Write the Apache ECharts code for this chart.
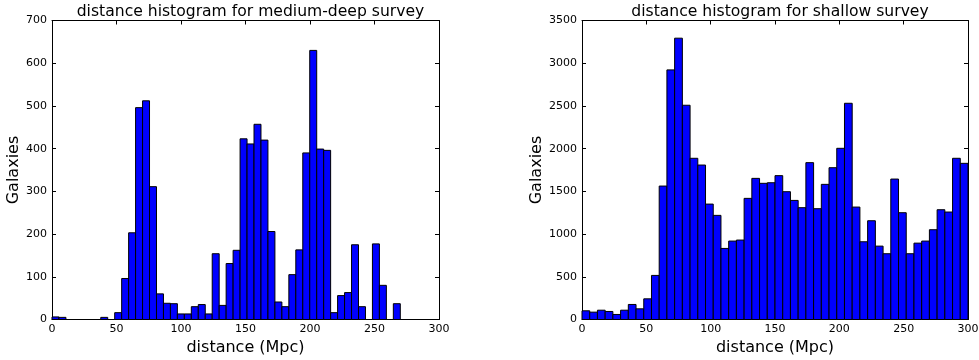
<!DOCTYPE html>
<html>
<head>
<meta charset="utf-8">
<script src="https://cdn.jsdelivr.net/npm/echarts@6/dist/echarts.min.js"></script>
<style>
  html, body { margin: 0; padding: 0; background: #fff; }
  #chart { width: 979px; height: 360px; }
</style>
</head>
<body>
<div id="chart"></div>
<script>
// Galaxy counts per distance bin (Mpc)
const deepBinStart = 0;
const deepBinWidth = 5.4;
const deepCounts = [
  6, 5, 0, 0, 0, 0, 0, 5, 0, 16,
  96, 203, 496, 512, 311, 60, 38, 37, 13, 13,
  30, 35, 13, 154, 33, 131, 162, 423, 411, 457,
  420, 206, 41, 30, 105, 163, 390, 630, 399, 396,
  16, 56, 63, 175, 30, 0, 177, 80, 0, 37
];

const shallowBinStart = 0;
const shallowBinWidth = 6;
const shallowCounts = [
  102, 86, 109, 94, 59, 109, 176, 125, 242, 516,
  1562, 2922, 3293, 2508, 1887, 1808, 1351, 1219, 832, 918,
  930, 1418, 1652, 1594, 1601, 1684, 1496, 1394, 1309, 1836,
  1297, 1582, 1777, 2004, 2531, 1316, 910, 1156, 859, 770,
  1644, 1250, 770, 894, 918, 1051, 1285, 1258, 1887, 1828
];

const xTicks = [0, 50, 100, 150, 200, 250, 300];
const deepYMax = 700, deepYStep = 100;
const shallowYMax = 3500, shallowYStep = 500;

const titles = ['distance histogram for medium-deep survey', 'distance histogram for shallow survey'];
const xLabel = 'distance (Mpc)';
const yLabel = 'Galaxies';

function binRows(start, width, counts) {
  return counts.map((c, i) => [start + i * width, start + (i + 1) * width, c]);
}

const FONT = 'DejaVu Sans';
const chart = echarts.init(document.getElementById('chart'), null, { renderer: 'canvas' });

const grids = [
  { left: 52, top: 20.5, width: 387, height: 299, containLabel: false, outerBoundsMode: 'none' },
  { left: 582, top: 20.5, width: 386, height: 299, containLabel: false, outerBoundsMode: 'none' }
];

const plain = v => String(v);

function mainX(gi) {
  return {
    type: 'value', gridIndex: gi, min: xTicks[0], max: xTicks[xTicks.length - 1], interval: xTicks[1] - xTicks[0],
    name: xLabel, nameLocation: 'middle', nameGap: 18,
    nameTextStyle: { fontFamily: FONT, fontSize: 16, color: '#000' },
    axisLine: { show: true, onZero: false, lineStyle: { color: '#000', width: 1 } },
    axisTick: { show: true, inside: true, length: 4, lineStyle: { color: '#000' } },
    axisLabel: { fontFamily: FONT, fontSize: 11, color: '#000', margin: 4, formatter: plain },
    splitLine: { show: false }
  };
}
function mirrorX(gi) {
  return {
    type: 'value', gridIndex: gi, min: xTicks[0], max: xTicks[xTicks.length - 1], interval: xTicks[1] - xTicks[0], position: 'top',
    axisLine: { show: true, onZero: false, lineStyle: { color: '#000', width: 1 } },
    axisTick: { show: true, inside: true, length: 4, lineStyle: { color: '#000' } },
    axisLabel: { show: false }, splitLine: { show: false }
  };
}
function mainY(gi, max, step, gap) {
  return {
    type: 'value', gridIndex: gi, min: 0, max: max, interval: step,
    name: yLabel, nameLocation: 'middle', nameGap: gap,
    nameTextStyle: { fontFamily: FONT, fontSize: 16, color: '#000' },
    axisLine: { show: true, onZero: false, lineStyle: { color: '#000', width: 1 } },
    axisTick: { show: true, inside: true, length: 4, lineStyle: { color: '#000' } },
    axisLabel: { fontFamily: FONT, fontSize: 11, color: '#000', margin: 5, formatter: plain },
    splitLine: { show: false }
  };
}
function mirrorY(gi, max, step) {
  return {
    type: 'value', gridIndex: gi, min: 0, max: max, interval: step, position: 'right',
    axisLine: { show: true, onZero: false, lineStyle: { color: '#000', width: 1 } },
    axisTick: { show: true, inside: true, length: 4, lineStyle: { color: '#000' } },
    axisLabel: { show: false }, splitLine: { show: false }
  };
}

function histSeries(xi, yi, rows) {
  return {
    type: 'custom', xAxisIndex: xi, yAxisIndex: yi,
    renderItem: function (params, api) {
      const p0 = api.coord([api.value(0), api.value(2)]);
      const p1 = api.coord([api.value(1), 0]);
      return {
        type: 'rect',
        shape: { x: p0[0], y: p0[1], width: p1[0] - p0[0], height: p1[1] - p0[1] },
        style: { fill: '#0000ff', stroke: '#000', lineWidth: 1 }
      };
    },
    encode: { x: [0, 1], y: 2 },
    data: rows,
    silent: true
  };
}

chart.setOption({
  animation: false,
  backgroundColor: '#fff',
  title: [
    { text: titles[0], left: 245.5, top: -1, textAlign: 'center',
      textStyle: { fontFamily: FONT, fontSize: 15.6, fontWeight: 'normal', color: '#000' } },
    { text: titles[1], left: 775, top: -1, textAlign: 'center',
      textStyle: { fontFamily: FONT, fontSize: 15.6, fontWeight: 'normal', color: '#000' } }
  ],
  grid: grids,
  xAxis: [mainX(0), mirrorX(0), mainX(1), mirrorX(1)],
  yAxis: [mainY(0, deepYMax, deepYStep, 30), mirrorY(0, deepYMax, deepYStep),
          mainY(1, shallowYMax, shallowYStep, 34), mirrorY(1, shallowYMax, shallowYStep)],
  series: [
    histSeries(0, 0, binRows(deepBinStart, deepBinWidth, deepCounts)),
    histSeries(2, 2, binRows(shallowBinStart, shallowBinWidth, shallowCounts))
  ]
});
</script>
</body>
</html>
